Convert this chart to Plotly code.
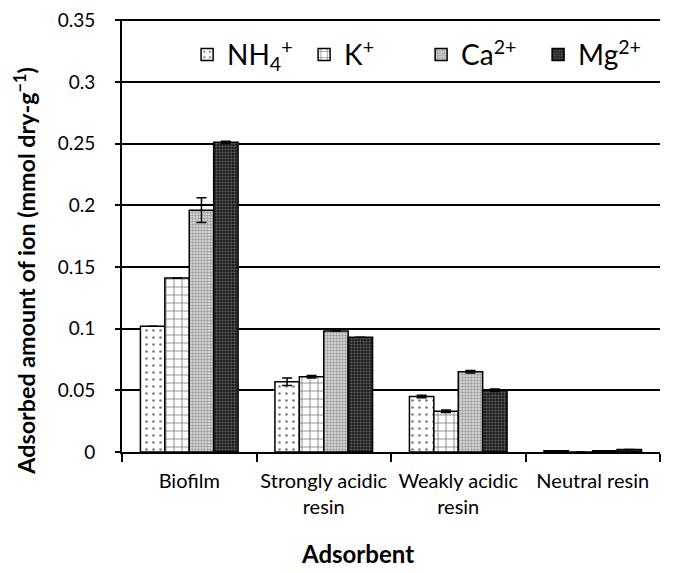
import plotly.graph_objects as go

categories = ["Biofilm", "Strongly acidic<br>resin", "Weakly acidic<br>resin", "Neutral resin"]
series_names = ["NH<sub>4</sub><sup>+</sup>", "K<sup>+</sup>", "Ca<sup>2+</sup>", "Mg<sup>2+</sup>"]
nh4 = [0.102, 0.057, 0.045, 0.001]
k = [0.141, 0.061, 0.033, 0.0]
ca = [0.196, 0.098, 0.065, 0.001]
mg = [0.251, 0.093, 0.050, 0.002]
nh4_err = [0.0, 0.003, 0.001, 0.0]
k_err = [0.0, 0.001, 0.001, 0.0]
ca_err = [0.010, 0.0, 0.001, 0.0]
mg_err = [0.001, 0.0, 0.001, 0.0]
y_ticks = [0, 0.05, 0.1, 0.15, 0.2, 0.25, 0.3, 0.35]
y_tick_labels = ["0", "0.05", "0.1", "0.15", "0.2", "0.25", "0.3", "0.35"]
x_title = "Adsorbent"
y_title = "Adsorbed amount of ion (mmol dry-g<sup>−1</sup>)"

values = [nh4, k, ca, mg]
errors = [nh4_err, k_err, ca_err, mg_err]
patterns = [
    dict(shape=".", fgcolor="black", bgcolor="white", size=7, solidity=0.12),
    dict(shape="+", fgcolor="black", bgcolor="white", size=8, solidity=0.2),
    dict(shape=".", fgcolor="#555555", bgcolor="#e0e0e0", size=3, solidity=0.5),
    dict(shape=".", fgcolor="#aaaaaa", bgcolor="#1e1e1e", size=3, solidity=0.35),
]

fig = go.Figure()
for name, v, e, p in zip(series_names, values, errors, patterns):
    fig.add_trace(go.Bar(
        x=categories, y=v, name=name,
        marker=dict(color=p["bgcolor"], pattern=p, line=dict(color="black", width=1.5)),
        error_y=dict(type="data", array=e, visible=True, color="black", thickness=1.5, width=5),
    ))

font_family = "Lato, Open Sans, sans-serif"
fig.update_layout(
    width=667, height=565,
    margin=dict(l=114, r=15, t=11, b=121),
    paper_bgcolor="white", plot_bgcolor="white",
    barmode="group", bargap=0.274, bargroupgap=0,
    font=dict(family=font_family, color="black", size=19),
    showlegend=True,
    legend=dict(
        orientation="h", x=0.121, y=0.975, xanchor="left", yanchor="top",
        bgcolor="rgba(0,0,0,0)", font=dict(size=28, family=font_family),
        itemwidth=30, entrywidth=72, traceorder="normal",
    ),
    xaxis=dict(
        showline=True, linecolor="black", linewidth=2,
        ticks="outside", tickson="boundaries", ticklen=8, tickwidth=2, tickcolor="black",
        tickfont=dict(size=20), tickangle=0, automargin=False, ticklabelstandoff=10,
    ),
    yaxis=dict(
        range=[0, 0.351], tickvals=y_ticks, ticktext=y_tick_labels,
        showline=True, linecolor="black", linewidth=2,
        ticks="outside", ticklen=5, tickwidth=2, tickcolor="black",
        showgrid=True, gridcolor="black", gridwidth=2,
        zeroline=False, tickfont=dict(size=19), automargin=False,
        ticklabelstandoff=16, ticklabeloverflow="allow",
    ),
    annotations=[
        dict(text="<b>" + x_title + "</b>", xref="paper", yref="paper",
             x=0.437, y=-0.234, xanchor="center", yanchor="middle",
             showarrow=False, font=dict(size=24)),
        dict(text="<b>" + y_title + "</b>", xref="paper", yref="paper",
             x=-0.18, y=0.419, xanchor="center", yanchor="middle", textangle=-90,
             showarrow=False, font=dict(size=23.3)),
    ],
)

fig.write_html("out.html")
